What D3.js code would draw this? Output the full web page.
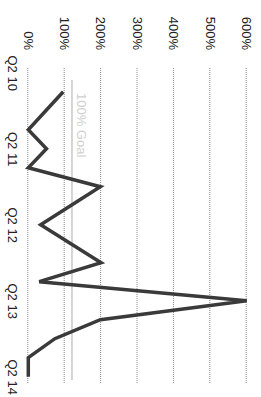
<!DOCTYPE html>
<html>
<head>
<meta charset="utf-8">
<script src="https://cdn.jsdelivr.net/npm/d3@7"></script>
<style>
  body { margin: 0; background: #fff; }
  svg { display: block; }
  .tick text { font-family: "Liberation Sans", Arial, sans-serif; font-size: 13px; fill: #222; }
  .grid .tick line { stroke: #8a8a8a; stroke-dasharray: 1,1; }
</style>
</head>
<body>
<script>
// quarters on the axis (Q2 10 .. Q2 14), data begins one quarter later
const allQuarters = ['Q2 10','Q3 10','Q4 10','Q1 11','Q2 11','Q3 11','Q4 11','Q1 12','Q2 12',
                     'Q3 12','Q4 12','Q1 13','Q2 13','Q3 13','Q4 13','Q1 14','Q2 14']
const tickQuarters = ['Q2 10','Q2 11','Q2 12','Q2 13','Q2 14']
const quarters = allQuarters.slice(1)
const values = [96, 48, 0, 50, 0, 198, 116, 34, 117, 200, 30, 600, 198, 73, 0, 0]
const yTicks = [0, 100, 200, 300, 400, 500, 600]
const goalValue = 120
const goalLabel = '100% Goal'

const chart = () => {
    let width = 261,
        height = 397
    let svg = d3.select('body').append('svg')
        .attr('width', width)
        .attr('height', height)

    // the chart is drawn unrotated, then turned a quarter clockwise
    let g = svg.append('g')
        .attr('transform', `translate(${width},0) rotate(90)`)

    let left = 68, right = 383
    let x = d3.scalePoint()
        .domain(allQuarters)
        .range([72.7, 376.7])
    let y = d3.scaleLinear()
        .domain([0, 600])
        .range([232.7, 14.3])

    let grid = g.append('g')
        .attr('class', 'grid')
        .attr('transform', `translate(${left},0)`)
        .call(d3.axisLeft(y)
            .tickValues(yTicks)
            .tickSize(-(right - left))
            .tickPadding(18)
            .tickFormat(d => d + '%'))
    grid.select('.domain').remove()

    let xAxis = g.append('g')
        .attr('transform', `translate(0,${y(0)})`)
        .call(d3.axisBottom(x)
            .tickValues(tickQuarters)
            .tickSize(0)
            .tickPadding(11))
    xAxis.select('.domain').remove()

    // goal line
    g.append('line')
        .attr('x1', 80)
        .attr('x2', 380)
        .attr('y1', y(goalValue))
        .attr('y2', y(goalValue))
        .attr('stroke', '#c8c8c8')
        .attr('stroke-width', 1.5)
    g.append('text')
        .attr('x', 93)
        .attr('y', y(goalValue) - 5)
        .attr('font-family', '"Liberation Sans", Arial, sans-serif')
        .attr('font-size', 13)
        .attr('fill', '#cfcfcf')
        .text(goalLabel)

    let line = d3.line()
        .x((d, i) => x(quarters[i]))
        .y(d => y(d))

    g.append('path')
        .datum(values)
        .attr('fill', 'none')
        .attr('stroke', '#3a3a3a')
        .attr('stroke-width', 3.5)
        .attr('stroke-linejoin', 'miter')
        .attr('d', line)
}

chart()
</script>
</body>
</html>
